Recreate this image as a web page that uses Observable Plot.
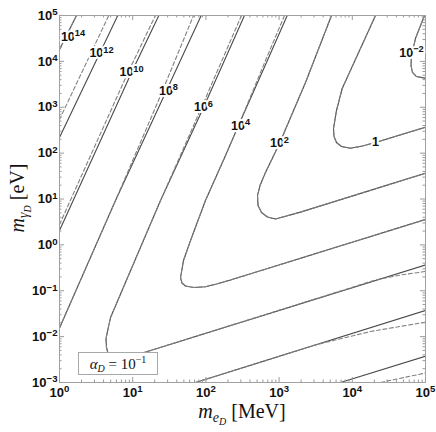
<!DOCTYPE html>
<html><head><meta charset="utf-8">
<script src="https://cdn.jsdelivr.net/npm/d3@7"></script>
<script src="https://cdn.jsdelivr.net/npm/@observablehq/plot@0.6"></script>
<style>html,body{margin:0;padding:0;background:#fff}#chart{width:436px;height:432px}</style>
</head><body><div id="chart"></div>
<script>
// Contour curves, points as [log10 m_eD (MeV), log10 m_gammaD (eV)]
// solid = full result, dashed = approximation
const c1e14Solid  = [[0,4.259],[0.232,5]];
const c1e14Dashed = [[0,4.259],[0.232,5]];
const c1e12Solid  = [[0,2.341],[0.796,5]];
const c1e12Dashed = [[0,2.733],[0.673,5]];
const c1e10Solid  = [[0,0.313],[0.984,3.758],[1.357,5]];
const c1e10Dashed = [[0,0.444],[0.936,3.758],[1.311,5]];
const c1e10LowSolid  = [[3.839,-3],[5,-2.427]];
const c1e10LowDashed = [[4.385,-3],[5,-2.793]];
const c1e8Solid  = [[0,-1.812],[0.765,0.967],[1.462,3.365],[1.936,5]];
const c1e8Dashed = [[0,-1.812],[0.765,0.967],[1.352,3.147],[1.831,5]];
const c1e8LowSolid  = [[1.858,-3],[5,-1.430]];
const c1e8LowDashed = [[1.858,-3],[3.511,-2.174],[4.249,-1.888],[5,-1.685]];
const c1e6Solid  = [[2.527,5],[1.967,2.995],[1.380,0.967],[0.697,-1.583],[0.635,-2.041],[0.642,-2.237],[0.669,-2.411],[0.751,-2.509],[0.902,-2.509],[1.134,-2.357],[5,-0.439]];
const c1e6Dashed = [[2.486,5],[1.940,2.995],[1.380,0.967],[0.697,-1.583],[0.635,-2.041],[0.642,-2.237],[0.669,-2.411],[0.751,-2.509],[0.902,-2.509],[1.134,-2.357],[4.331,-0.759],[4.658,-0.657],[5,-0.580]];
const c1e4Solid  = [[3.111,5],[2.840,4.019],[2.445,2.602],[2.268,1.948],[1.994,0.967],[1.790,0.095],[1.694,-0.340],[1.653,-0.711],[1.673,-0.831],[1.721,-0.896],[1.831,-0.929],[1.994,-0.914],[2.145,-0.853],[2.336,-0.766],[5,0.553]];
const c1e4Dashed = [[3.074,5],[2.814,4.019],[2.445,2.602],[2.268,1.948],[1.994,0.967],[1.790,0.095],[1.694,-0.340],[1.653,-0.711],[1.673,-0.831],[1.721,-0.896],[1.831,-0.929],[1.994,-0.914],[2.145,-0.853],[2.336,-0.766],[5,0.553]];
const c1e2Solid  = [[3.716,5],[3.361,3.540],[3.005,2.210],[2.814,1.578],[2.739,1.294],[2.705,1.076],[2.712,0.858],[2.760,0.706],[2.841,0.608],[2.951,0.564],[3.292,0.714],[5,1.562]];
const c1Solid    = [[4.317,5],[3.862,3.409],[3.784,2.929],[3.743,2.537],[3.750,2.362],[3.784,2.232],[3.852,2.144],[3.975,2.107],[4.139,2.155],[4.317,2.232],[5,2.565]];
const c1em2Solid = [[4.986,5],[4.863,4.499],[4.809,4.128],[4.802,3.910],[4.822,3.758],[4.877,3.670],[5,3.633]];

const solidCurves  = [c1e14Solid,c1e12Solid,c1e10Solid,c1e10LowSolid,c1e8Solid,c1e8LowSolid,c1e6Solid,c1e4Solid,c1e2Solid,c1Solid,c1em2Solid];
const dashedCurves = [c1e14Dashed,c1e12Dashed,c1e10Dashed,c1e10LowDashed,c1e8Dashed,c1e8LowDashed,c1e6Dashed,c1e4Dashed,c1e2Solid,c1Solid,c1em2Solid];

// contour labels
const labelText = ["10^14","10^12","10^10","10^8","10^6","10^4","10^2","1","10^−2"];
const labelLogX = [0.184,0.574,0.984,1.489,1.967,2.473,3.005,4.317,4.809];
const labelLogY = [4.542,4.172,3.758,3.365,2.995,2.602,2.210,2.232,4.193];

// axes
const xDecades = [1,10,100,1e3,1e4,1e5];
const yDecades = [1e-3,1e-2,1e-1,1,10,100,1e3,1e4,1e5];
const minorMult = [2,3,4,5,6,7,8,9];

const toRows = (curves) => curves.flatMap((c,i) => c.map(([lx,ly]) => ({id:i, x:10**lx, y:10**ly})));
const solidRows = toRows(solidCurves);
const dashedRows = toRows(dashedCurves);
const labels = labelText.map((t,i) => ({text:t, x:10**labelLogX[i], y:10**labelLogY[i]}));
const xMinor = xDecades.slice(0,-1).flatMap(d => minorMult.map(m => d*m));
const yMinor = yDecades.slice(0,-1).flatMap(d => minorMult.map(m => d*m));

const W = 436, H = 432, mL = 59, mR = 11, mT = 15, mB = 50;
const ph = H - mT - mB;
const pw = W - mL - mR;
const sup = d => { const e = Math.round(Math.log10(d)); return "10^" + (e < 0 ? "−" + (-e) : e); };
const tickC = "#9a9a9a";

const svg = Plot.plot({
  width: W, height: H,
  marginLeft: mL, marginRight: mR, marginTop: mT, marginBottom: mB,
  style: {fontFamily: "'Liberation Sans', Arial, sans-serif", background: "#fff"},
  x: {type: "log", domain: [1, 1e5], label: null},
  y: {type: "log", domain: [1e-3, 1e5], label: null},
  marks: [
    Plot.line(solidRows, {x: "x", y: "y", z: "id", stroke: "#4a4a4a", strokeWidth: 1.1, clip: true}),
    Plot.line(dashedRows, {x: "x", y: "y", z: "id", stroke: "#808080", strokeWidth: 1.1, strokeDasharray: "4,2.5", clip: true}),
    // inner ticks
    Plot.tickX(xDecades, {x: d => d, insetTop: ph - 5, stroke: tickC}),
    Plot.tickX(xDecades, {x: d => d, insetBottom: ph - 5, stroke: tickC}),
    Plot.tickX(xMinor, {x: d => d, insetTop: ph - 2.5, stroke: tickC}),
    Plot.tickX(xMinor, {x: d => d, insetBottom: ph - 2.5, stroke: tickC}),
    Plot.tickY(yDecades, {y: d => d, insetRight: pw - 5, stroke: tickC}),
    Plot.tickY(yDecades, {y: d => d, insetLeft: pw - 5, stroke: tickC}),
    Plot.tickY(yMinor, {y: d => d, insetRight: pw - 2.5, stroke: tickC}),
    Plot.tickY(yMinor, {y: d => d, insetLeft: pw - 2.5, stroke: tickC}),
    Plot.frame({stroke: "#a0a0a0"}),
    Plot.axisX({ticks: xDecades, tickSize: 0, tickPadding: 5, tickFormat: sup, fontSize: 13, fontWeight: "bold", fill: "#111"}),
    Plot.axisY({ticks: yDecades, tickSize: 0, tickPadding: 2, tickFormat: sup, fontSize: 13, fontWeight: "bold", fill: "#111"}),
    Plot.text(labels, {x: "x", y: "y", text: "text", fontSize: 12.5, fontWeight: "bold", fill: "#111", stroke: "white", strokeWidth: 4})
  ]
});
document.getElementById("chart").append(svg);

// turn "a^b" into a + superscript tspan
d3.select(svg).selectAll("text").each(function() {
  const t = this.textContent;
  if (!t.includes("^")) return;
  const [b, e] = t.split("^");
  const s = d3.select(this);
  s.text(null);
  s.append("tspan").text(b);
  s.append("tspan").attr("dy", "-0.45em").attr("font-size", "0.74em").text(e);
});

const root = d3.select(svg);
const serif = "'Liberation Serif', 'Times New Roman', serif";
// bottom axis title
const bt = root.append("text").attr("x", 242).attr("y", 418).attr("text-anchor", "middle")
  .attr("font-family", serif).attr("font-size", 20).attr("fill", "#111");
bt.append("tspan").attr("font-style", "italic").text("m");
bt.append("tspan").attr("font-style", "italic").attr("font-size", 14).attr("dy", 4).text("e");
bt.append("tspan").attr("font-style", "italic").attr("font-size", 10).attr("dy", 2.5).text("D");
bt.append("tspan").attr("dy", -6.5).text(" [MeV]");
// left axis title
const lt = root.append("text").attr("transform", "translate(24,198) rotate(-90)").attr("text-anchor", "middle")
  .attr("font-family", serif).attr("font-size", 20).attr("fill", "#111");
lt.append("tspan").attr("font-style", "italic").text("m");
lt.append("tspan").attr("font-style", "italic").attr("font-size", 14).attr("dy", 4).text("γ");
lt.append("tspan").attr("font-style", "italic").attr("font-size", 10).attr("dy", 2.5).text("D");
lt.append("tspan").attr("dy", -6.5).text(" [eV]");
// alpha_D box
root.append("rect").attr("x", 78.5).attr("y", 352.5).attr("width", 79).attr("height", 22)
  .attr("fill", "white").attr("stroke", "#a8a8a8");
const at = root.append("text").attr("x", 118).attr("y", 369).attr("text-anchor", "middle")
  .attr("font-family", serif).attr("font-size", 15).attr("fill", "#111");
at.append("tspan").attr("font-style", "italic").text("α");
at.append("tspan").attr("font-style", "italic").attr("font-size", 10).attr("dy", 3).text("D");
at.append("tspan").attr("dy", -3).text(" = 10");
at.append("tspan").attr("font-size", 10).attr("dy", -6).text("−1");
</script></body></html>
